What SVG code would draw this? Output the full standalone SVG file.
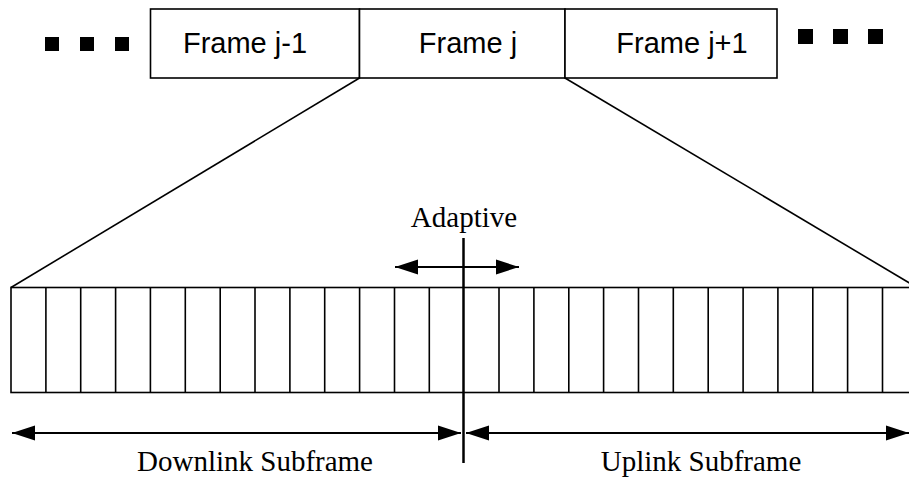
<svg xmlns="http://www.w3.org/2000/svg" width="909" height="479" viewBox="0 0 909 479">
<style>
.ln{stroke:#000;stroke-width:1.6;fill:none}
.box{stroke:#000;stroke-width:1.6;fill:#fff}
.sans{font-family:"Liberation Sans",Arial,sans-serif;font-size:29px;fill:#000;text-anchor:middle}
.serif{font-family:"Liberation Serif","Times New Roman",serif;font-size:29px;fill:#000;text-anchor:middle}
.arr{stroke:#000;stroke-width:2;fill:none;marker-start:url(#ah);marker-end:url(#ah)}
</style>
<defs>
<marker id="ah" viewBox="-23 -8 24 16" refX="0" refY="0" markerWidth="24" markerHeight="16" markerUnits="userSpaceOnUse" orient="auto-start-reverse">
<path d="M0,0 L-23,-7.5 L-23,7.5 Z" fill="#000"/>
</marker>
</defs>
<rect width="909" height="479" fill="#fff"/>
<g id="dots-left">
<rect x="45" y="37" width="14" height="14"/>
<rect x="80" y="37" width="14" height="14"/>
<rect x="115" y="37" width="14" height="14"/>
</g>
<g id="dots-right">
<rect x="798" y="29" width="15" height="15"/>
<rect x="833" y="29" width="15" height="15"/>
<rect x="868" y="29" width="15" height="15"/>
</g>
<g id="frame-j-1">
<rect class="box" x="150.5" y="9" width="209" height="69"/>
<text class="sans" x="245" y="53">Frame j-1</text>
</g>
<g id="frame-j">
<rect class="box" x="359.5" y="9" width="205.5" height="69"/>
<text class="sans" x="468" y="53">Frame j</text>
</g>
<g id="frame-j+1">
<rect class="box" x="565" y="9" width="212" height="69"/>
<text class="sans" x="682" y="53">Frame j+1</text>
</g>
<g id="subframes">
<rect class="box" x="11" y="287.5" width="906" height="105"/>
<path class="ln" d="M45.9,287.5V392.5M80.7,287.5V392.5M115.6,287.5V392.5M150.4,287.5V392.5M185.3,287.5V392.5M220.2,287.5V392.5M255,287.5V392.5M289.9,287.5V392.5M324.7,287.5V392.5M359.6,287.5V392.5M394.5,287.5V392.5M429.3,287.5V392.5M499,287.5V392.5M533.9,287.5V392.5M568.8,287.5V392.5M603.6,287.5V392.5M638.5,287.5V392.5M673.3,287.5V392.5M708.2,287.5V392.5M743.1,287.5V392.5M777.9,287.5V392.5M812.8,287.5V392.5M847.6,287.5V392.5M882.5,287.5V392.5"/>
</g>
<g id="connectors">
<line class="ln" x1="359.5" y1="78" x2="11" y2="287.5"/>
<line class="ln" x1="565" y1="78" x2="917" y2="287.5"/>
<line x1="463.5" y1="238" x2="463.5" y2="463" stroke="#000" stroke-width="2.5"/>
<line class="arr" x1="395" y1="267" x2="519" y2="267"/>
<line class="arr" x1="12" y1="433" x2="461" y2="433"/>
<line class="arr" x1="466" y1="433" x2="909" y2="433"/>
</g>
<g id="labels">
<text class="serif" x="464" y="227">Adaptive</text>
<text class="serif" x="255" y="471">Downlink Subframe</text>
<text class="serif" x="701" y="471">Uplink Subframe</text>
</g>
</svg>
